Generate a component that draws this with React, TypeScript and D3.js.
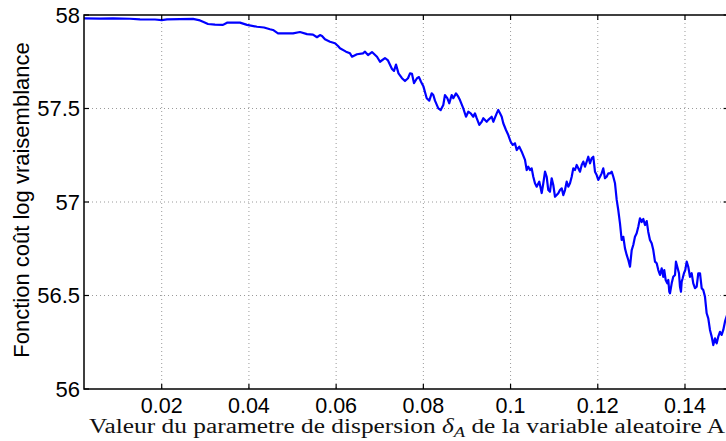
import React from "react";
import * as d3 from "d3";

const deltaA: number[] = [
  0.00218, 0.00585, 0.00883, 0.01273, 0.01502, 0.01846, 0.02, 0.02121, 0.02419, 0.02717,
  0.02878, 0.02947, 0.03061, 0.03222, 0.03405, 0.03497, 0.03681, 0.03795, 0.03956, 0.04185,
  0.04346, 0.04483, 0.04552, 0.04667, 0.04758, 0.05011, 0.05171, 0.05332, 0.05469, 0.05561,
  0.0563, 0.05676, 0.05744, 0.05859, 0.05974, 0.06043, 0.06088, 0.06226, 0.06318, 0.06364,
  0.06478, 0.06616, 0.06662, 0.06731, 0.06822, 0.06937, 0.07006, 0.0712, 0.07189, 0.07281,
  0.07327, 0.07373, 0.0743, 0.0751, 0.07579, 0.07648, 0.07694, 0.0774, 0.07785, 0.07854,
  0.079, 0.07946, 0.08003, 0.08077, 0.08136, 0.08191, 0.08228, 0.08267, 0.08343, 0.08398,
  0.08457, 0.08496, 0.08549, 0.08595, 0.0865, 0.08687, 0.08749, 0.08801, 0.0884, 0.08916,
  0.08978, 0.09031, 0.09086, 0.09145, 0.09184, 0.09223, 0.09283, 0.09338, 0.09375, 0.09453,
  0.09489, 0.09567, 0.09604, 0.09682, 0.09718, 0.09758, 0.09797, 0.09833, 0.09895, 0.09948,
  0.10003, 0.10049, 0.10101, 0.10141, 0.102, 0.10255, 0.10331, 0.1037, 0.10406, 0.10446,
  0.10484, 0.10521, 0.1056, 0.10599, 0.10659, 0.10714, 0.10751, 0.1079, 0.10828, 0.10865,
  0.10904, 0.10943, 0.1098, 0.11019, 0.11058, 0.11095, 0.11133, 0.11173, 0.11209, 0.11248,
  0.11287, 0.11324, 0.11363, 0.11402, 0.11438, 0.11478, 0.11516, 0.11553, 0.11592, 0.11631,
  0.11668, 0.11707, 0.11746, 0.11782, 0.11821, 0.1186, 0.11897, 0.11936, 0.11975, 0.12011,
  0.12051, 0.12089, 0.12126, 0.12165, 0.12204, 0.12241, 0.1228, 0.12319, 0.12356, 0.12395,
  0.12434, 0.1247, 0.12509, 0.12548, 0.12585, 0.12624, 0.12663, 0.127, 0.12739, 0.12778,
  0.12814, 0.12853, 0.12892, 0.12929, 0.12968, 0.13007, 0.13044, 0.13083, 0.13122, 0.13158,
  0.13197, 0.13236, 0.13273, 0.13312, 0.13351, 0.13388, 0.13427, 0.13466, 0.13502, 0.13525,
  0.13557, 0.13594, 0.13617, 0.1364, 0.13656, 0.13695, 0.13731, 0.13771, 0.13793, 0.13823,
  0.13862, 0.13885, 0.13908, 0.13924, 0.13947, 0.13976, 0.14006, 0.14039, 0.14075, 0.14114,
  0.14153, 0.1419, 0.14229, 0.14268, 0.14305, 0.14344, 0.14383, 0.14419, 0.14458, 0.14497,
  0.14534, 0.14573, 0.14612, 0.14649, 0.14688, 0.14727, 0.14763, 0.14802, 0.14841, 0.14878,
  0.14917, 0.1494, 0.15,
];

const cost: number[] = [
  57.982, 57.981, 57.982, 57.98, 57.977, 57.976, 57.973, 57.977, 57.978, 57.979,
  57.971, 57.964, 57.952, 57.949, 57.947, 57.959, 57.96, 57.959, 57.947, 57.937,
  57.933, 57.924, 57.92, 57.902, 57.902, 57.902, 57.909, 57.898, 57.895, 57.881,
  57.893, 57.888, 57.87, 57.857, 57.849, 57.834, 57.822, 57.804, 57.795, 57.777,
  57.79, 57.795, 57.804, 57.786, 57.802, 57.777, 57.75, 57.77, 57.757, 57.711,
  57.701, 57.735, 57.688, 57.662, 57.647, 57.662, 57.688, 57.685, 57.636, 57.662,
  57.668, 57.643, 57.617, 57.555, 57.542, 57.581, 57.572, 57.542, 57.501, 57.492,
  57.519, 57.572, 57.555, 57.528, 57.572, 57.555, 57.581, 57.563, 57.545, 57.501,
  57.456, 57.483, 57.474, 57.456, 57.474, 57.448, 57.412, 57.429, 57.448, 57.429,
  57.439, 57.456, 57.429, 57.474, 57.492, 57.474, 57.456, 57.421, 57.385, 57.358,
  57.322, 57.305, 57.314, 57.278, 57.296, 57.269, 57.225, 57.171, 57.189, 57.171,
  57.18, 57.135, 57.1, 57.082, 57.109, 57.048, 57.1, 57.162, 57.135, 57.064,
  57.055, 57.127, 57.091, 57.028, 57.037, 57.047, 57.064, 57.073, 57.037, 57.064,
  57.109, 57.082, 57.1, 57.135, 57.18, 57.171, 57.198, 57.18, 57.162, 57.198,
  57.216, 57.189, 57.216, 57.242, 57.207, 57.234, 57.242, 57.162, 57.144, 57.118,
  57.135, 57.153, 57.18, 57.127, 57.135, 57.153, 57.153, 57.162, 57.135, 57.1,
  57.011, 56.957, 56.886, 56.797, 56.814, 56.752, 56.717, 56.69, 56.654, 56.743,
  56.77, 56.814, 56.833, 56.868, 56.913, 56.893, 56.909, 56.877, 56.898, 56.84,
  56.797, 56.779, 56.743, 56.681, 56.672, 56.636, 56.61, 56.645, 56.6, 56.636,
  56.583, 56.565, 56.583, 56.52, 56.512, 56.565, 56.6, 56.61, 56.681, 56.654,
  56.619, 56.547, 56.52, 56.574, 56.592, 56.619, 56.636, 56.681, 56.654, 56.6,
  56.619, 56.565, 56.539, 56.547, 56.619, 56.619, 56.539, 56.529, 56.494, 56.405,
  56.378, 56.316, 56.28, 56.235, 56.271, 56.244, 56.28, 56.306, 56.289, 56.316,
  56.36, 56.378, 56.42,
];

const xTicks: number[] = [0.02, 0.04, 0.06, 0.08, 0.1, 0.12, 0.14];
const xTickLabels: string[] = ["0.02", "0.04", "0.06", "0.08", "0.1", "0.12", "0.14"];
const yTicks: number[] = [56, 56.5, 57, 57.5, 58];
const yTickLabels: string[] = ["56", "56.5", "57", "57.5", "58"];

const W = 726;
const H = 441;
const left = 84;
const right = 728.6;
const top = 15;
const bottom = 389;

export default function App() {
  const x = d3.scaleLinear().domain([0.00218, 0.15]).range([left, right]);
  const y = d3.scaleLinear().domain([56, 58]).range([bottom, top]);
  const pts = deltaA.map((d, i) => [d, cost[i]] as [number, number]);
  const line = d3
    .line<[number, number]>()
    .x((d) => x(d[0]))
    .y((d) => y(d[1]));
  const sans = "'Liberation Sans', Arial, Helvetica, sans-serif";
  const serif = "'Liberation Serif', 'Times New Roman', serif";
  const tickLen = 5;
  return (
    <div style={{ position: "fixed", left: 0, top: 0, width: W, height: H, overflow: "hidden", background: "#fff" }}>
      <svg width={W} height={H} style={{ display: "block" }}>
        <defs>
          <clipPath id="plotclip">
            <rect x={left} y={top} width={right - left} height={bottom - top} />
          </clipPath>
        </defs>
        <rect x={0} y={0} width={W} height={H} fill="#fff" />
        {xTicks.map((t) => (
          <line key={"gx" + t} x1={x(t)} x2={x(t)} y1={top} y2={bottom} stroke="#9a9a9a" strokeWidth={1} strokeDasharray="1,3" />
        ))}
        {yTicks.slice(1, -1).map((t) => (
          <line key={"gy" + t} x1={left} x2={right} y1={y(t)} y2={y(t)} stroke="#9a9a9a" strokeWidth={1} strokeDasharray="1,3" />
        ))}
        <path d={line(pts) || ""} fill="none" stroke="#0000ff" strokeWidth={2.2} clipPath="url(#plotclip)" strokeLinejoin="round" />
        {xTicks.map((t) => (
          <g key={"tx" + t}>
            <line x1={x(t)} x2={x(t)} y1={bottom} y2={bottom - tickLen} stroke="#000" strokeWidth={1.2} />
            <line x1={x(t)} x2={x(t)} y1={top} y2={top + tickLen} stroke="#000" strokeWidth={1.2} />
          </g>
        ))}
        {yTicks.map((t) => (
          <g key={"ty" + t}>
            <line x1={left} x2={left + tickLen} y1={y(t)} y2={y(t)} stroke="#000" strokeWidth={1.2} />
            <line x1={right} x2={right - tickLen} y1={y(t)} y2={y(t)} stroke="#000" strokeWidth={1.2} />
          </g>
        ))}
        <rect x={left} y={top} width={right - left} height={bottom - top} fill="none" stroke="#000" strokeWidth={1.5} />
        {xTicks.map((t, i) => (
          <text key={"lx" + t} x={x(t)} y={413} textAnchor="middle" fontFamily={sans} fontSize={21.5} fill="#000">
            {xTickLabels[i]}
          </text>
        ))}
        {yTicks.map((t, i) => (
          <text key={"ly" + t} x={80} y={y(t) + 7.8} textAnchor="end" fontFamily={sans} fontSize={22} fill="#000">
            {yTickLabels[i]}
          </text>
        ))}
        <text
          transform={`translate(29,200) rotate(-90)`}
          textAnchor="middle"
          fontFamily={sans}
          fontSize={22}
          fill="#000"
        >
          Fonction coût log vraisemblance
        </text>
        <text x={89} y={432.5} fontFamily={serif} fontSize={20.5} fill="#111" textLength={636} lengthAdjust="spacingAndGlyphs">
          Valeur du parametre de dispersion <tspan fontStyle="italic">δ</tspan>
          <tspan fontStyle="italic" fontSize={15} dy={4}>A</tspan>
          <tspan dy={-4}> de la variable aleatoire A</tspan>
        </text>
      </svg>
    </div>
  );
}
